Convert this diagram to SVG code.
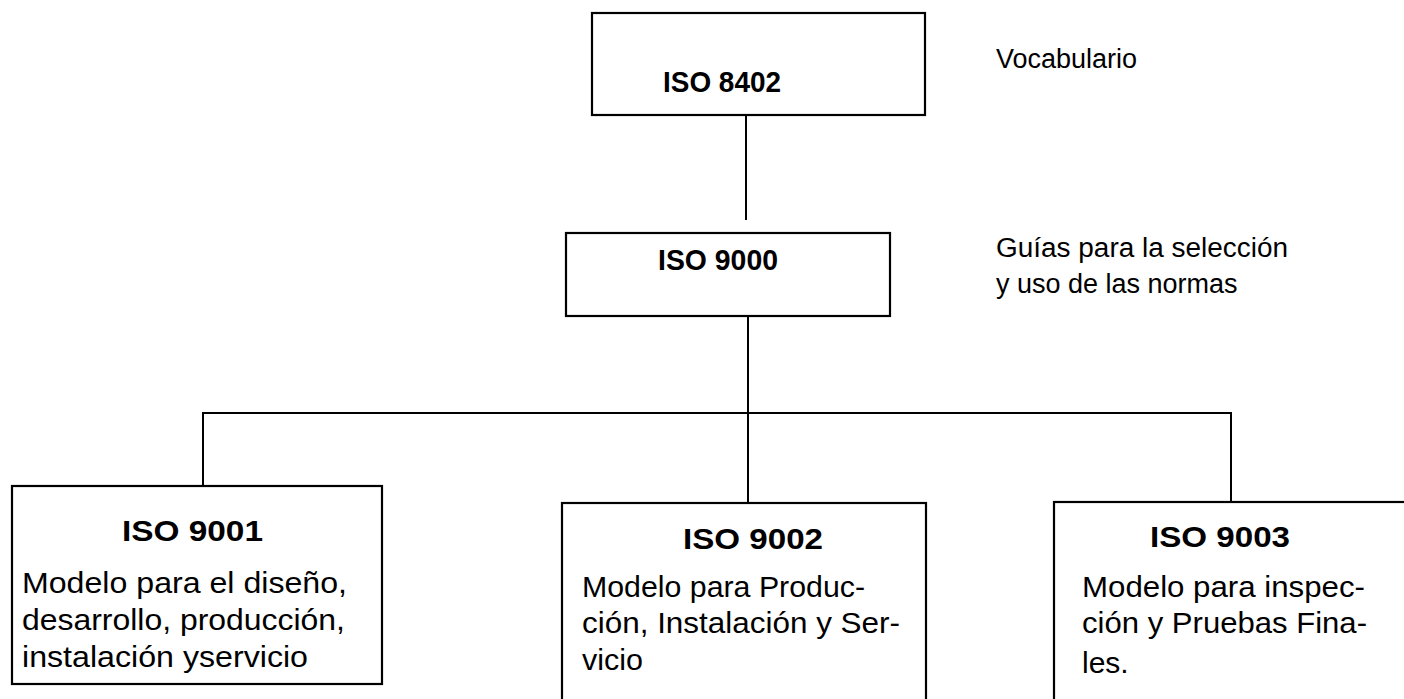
<svg xmlns="http://www.w3.org/2000/svg" width="1404" height="699" viewBox="0 0 1404 699">
  <style>
    .box { fill: #ffffff; stroke: #000000; stroke-width: 2.2; }
    .wire { fill: none; stroke: #000000; stroke-width: 2; }
    .title { font-family: "Liberation Sans", Arial, sans-serif; font-weight: bold; font-size: 30px; fill: #000000; }
    .body { font-family: "Liberation Sans", Arial, sans-serif; font-size: 30px; fill: #000000; }
    .note { font-family: "Liberation Sans", Arial, sans-serif; font-size: 27px; fill: #000000; }
  </style>
  <rect width="1404" height="699" fill="#ffffff"/>

  <!-- connectors -->
  <g id="connectors">
    <line class="wire" x1="746" y1="115" x2="746" y2="220"/>
    <line class="wire" x1="748" y1="316" x2="748" y2="503"/>
    <polyline class="wire" points="203,486 203,413 1231,413 1231,502"/>
  </g>

  <!-- ISO 8402 -->
  <g id="iso8402">
    <rect class="box" x="592" y="13" width="333" height="102"/>
    <text class="title" x="663" y="92" textLength="118" lengthAdjust="spacingAndGlyphs">ISO 8402</text>
  </g>
  <g id="vocabulario">
    <text class="note" x="996" y="68">Vocabulario</text>
  </g>

  <!-- ISO 9000 -->
  <g id="iso9000">
    <rect class="box" x="566" y="233" width="324" height="83"/>
    <text class="title" x="658" y="270" textLength="120" lengthAdjust="spacingAndGlyphs">ISO 9000</text>
  </g>
  <g id="guias">
    <text class="note" x="996" y="257" textLength="292" lengthAdjust="spacingAndGlyphs">Guías para la selección</text>
    <text class="note" x="996" y="293">y uso de las normas</text>
  </g>

  <!-- ISO 9001 -->
  <g id="iso9001">
    <rect class="box" x="12" y="486" width="370" height="198"/>
    <text class="title" x="122" y="541" textLength="141" lengthAdjust="spacingAndGlyphs">ISO 9001</text>
    <text class="body" x="22" y="593" textLength="325" lengthAdjust="spacingAndGlyphs">Modelo para el diseño,</text>
    <text class="body" x="22" y="630" textLength="323" lengthAdjust="spacingAndGlyphs">desarrollo, producción,</text>
    <text class="body" x="22" y="667" textLength="286" lengthAdjust="spacingAndGlyphs">instalación yservicio</text>
  </g>

  <!-- ISO 9002 -->
  <g id="iso9002">
    <rect class="box" x="562" y="503" width="364" height="210"/>
    <text class="title" x="683" y="549" textLength="140" lengthAdjust="spacingAndGlyphs">ISO 9002</text>
    <text class="body" x="582" y="597" textLength="283" lengthAdjust="spacingAndGlyphs">Modelo para Produc-</text>
    <text class="body" x="582" y="633" textLength="318" lengthAdjust="spacingAndGlyphs">ción, Instalación y Ser-</text>
    <text class="body" x="582" y="670" textLength="61" lengthAdjust="spacingAndGlyphs">vicio</text>
  </g>

  <!-- ISO 9003 -->
  <g id="iso9003">
    <rect class="box" x="1054" y="502" width="360" height="210"/>
    <text class="title" x="1150" y="547" textLength="140" lengthAdjust="spacingAndGlyphs">ISO 9003</text>
    <text class="body" x="1082" y="597" textLength="283" lengthAdjust="spacingAndGlyphs">Modelo para inspec-</text>
    <text class="body" x="1082" y="633" textLength="285" lengthAdjust="spacingAndGlyphs">ción y Pruebas Fina-</text>
    <text class="body" x="1082" y="673">les.</text>
  </g>
</svg>
